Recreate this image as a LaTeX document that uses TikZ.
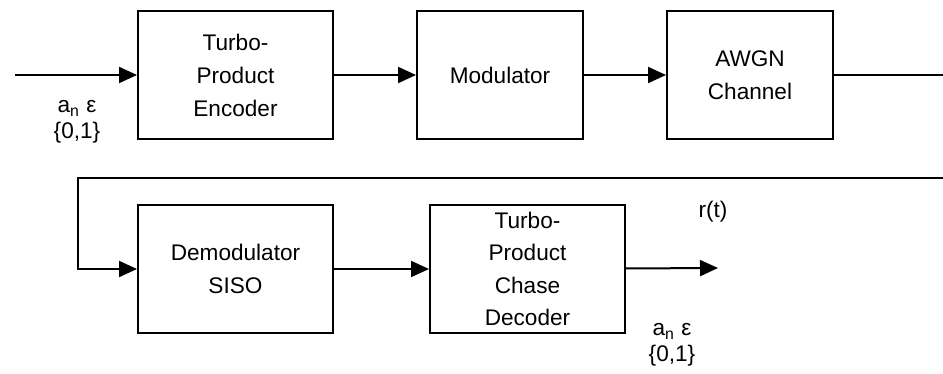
\documentclass[tikz,border=0pt]{standalone}
\usepackage{fontspec}
\setmainfont{Liberation Sans}
\usetikzlibrary{arrows.meta}
\usetikzlibrary{positioning}
\tikzset{block/.style={rectangle,draw,line width=1pt,inner sep=0pt,
minimum width=97.5pt, minimum height=64pt, align=center,
font=\fontsize{11.3}{16.5}\selectfont},
narrow/.style={block,minimum width=83pt},
lbl/.style={rectangle, inner sep=0pt, align=center,
font=\fontsize{11.3}{12.8}\selectfont},
wire/.style={line width=1pt},
>={Triangle[length=9pt,width=8pt]}}

\begin{document}
\begin{tikzpicture}[x=0.5pt,y=-0.5pt]
  \useasboundingbox (0,0) rectangle (943,374);
  % transmitter row
  \node (enc) [block] at (235.5,75) {Turbo-\\Product\\Encoder};
  \node (mod) [narrow, right=41pt of enc] {Modulator};
  \node (chan) [narrow, right=41pt of mod] {AWGN\\Channel};
  % receiver row
  \node (dem) [block, below=32pt of enc] {Demodulator\\SISO};
  \node (dec) [block, right=47.5pt of dem, font=\fontsize{11.3}{16.2}\selectfont]
    {Turbo-\\Product\\Chase\\Decoder};
  % labels
  \node (ain) [lbl] at (77,122) {a\textsubscript{n} ε\\\{0,1\}};
  \node (aout) [lbl] at (672,345) {a\textsubscript{n} ε\\\{0,1\}};
  \node (rt) [lbl] at (713,212) {r(t)};
  \coordinate (src) at (15,75);
  \coordinate (edge) at (943,75);
  \coordinate (back) at (943,178);
  \coordinate (sink) at (718,268);
  \draw [wire,->] (src) -- (enc);
  \draw [wire,->] (enc) -- (mod);
  \draw [wire,->] (mod) -- (chan);
  \draw [wire] (chan) -- (edge);
  \draw [wire,->] (back) -- (78,178) |- (dem.west);
  \draw [wire,->] (dem) -- (dec);
  \draw [wire,->] (dec) -- (sink);
\end{tikzpicture}
\end{document}
